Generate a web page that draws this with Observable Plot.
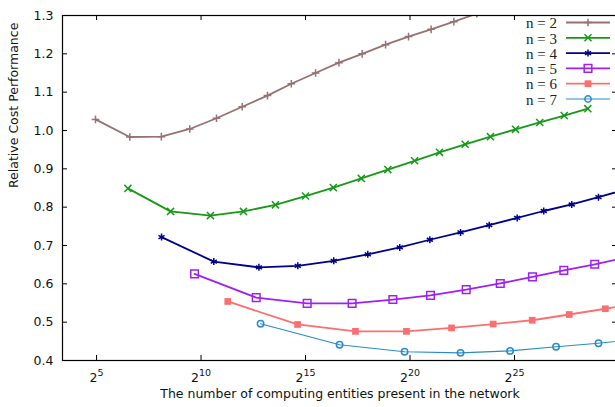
<!DOCTYPE html>
<html>
<head>
<meta charset="utf-8">
<script src="https://cdn.jsdelivr.net/npm/d3@7"></script>
<script src="https://cdn.jsdelivr.net/npm/@observablehq/plot@0.6"></script>
<style>
  html, body { margin: 0; padding: 0; background: #fff; overflow: hidden; }
  #chart svg { max-width: none !important; display: block; }
</style>
</head>
<body>
<div id="chart"></div>
<script>
// ---- data (x as log2 of the number of entities, y = relative cost performance) ----
const seriesNames = ["n = 2", "n = 3", "n = 4", "n = 5", "n = 6", "n = 7"];

const n2Exp = [4.95, 6.59, 8.10, 9.46, 10.74, 11.97, 13.18, 14.32, 15.48, 16.60, 17.71, 18.83, 19.93, 21.01, 22.10, 23.20];
const n2Val = [1.029, 0.983, 0.984, 1.004, 1.032, 1.062, 1.091, 1.122, 1.150, 1.177, 1.200, 1.224, 1.245, 1.264, 1.284, 1.305];

const n3Exp = [6.50, 8.54, 10.45, 12.03, 13.56, 15.00, 16.33, 17.67, 18.94, 20.22, 21.41, 22.64, 23.85, 25.05, 26.21, 27.38, 28.51];
const n3Val = [0.849, 0.789, 0.778, 0.789, 0.806, 0.829, 0.851, 0.875, 0.898, 0.921, 0.943, 0.964, 0.984, 1.003, 1.021, 1.039, 1.057];

const n4Exp = [8.11, 10.61, 12.77, 14.63, 16.35, 17.98, 19.51, 20.95, 22.42, 23.79, 25.13, 26.40, 27.74, 29.02, 30.26];
const n4Val = [0.722, 0.658, 0.643, 0.647, 0.660, 0.677, 0.695, 0.715, 0.734, 0.753, 0.772, 0.790, 0.807, 0.826, 0.845];

const n5Exp = [9.69, 12.64, 15.08, 17.23, 19.18, 20.98, 22.69, 24.32, 25.86, 27.36, 28.84, 30.30];
const n5Val = [0.626, 0.564, 0.549, 0.549, 0.559, 0.570, 0.585, 0.601, 0.618, 0.635, 0.651, 0.668];

const n6Exp = [11.28, 14.62, 17.39, 19.83, 21.99, 23.98, 25.85, 27.62, 29.35, 31.05];
const n6Val = [0.554, 0.494, 0.476, 0.476, 0.485, 0.495, 0.505, 0.520, 0.535, 0.551];

const n7Exp = [12.85, 16.63, 19.74, 22.42, 24.79, 26.99, 29.02, 31.00];
const n7Val = [0.496, 0.441, 0.423, 0.420, 0.425, 0.436, 0.445, 0.456];

const xTickExps = [5, 10, 15, 20, 25];
const yTicks = [0.4, 0.5, 0.6, 0.7, 0.8, 0.9, 1.0, 1.1, 1.2, 1.3];
const xTitle = "The number of computing entities present in the network";
const yTitle = "Relative Cost Performance";

// ---- styles ----
const styles = [
  {color: "#967272", symbol: "plus",     r: 2.6, filled: false, lw: 1.8},
  {color: "#169a16", symbol: "times",    r: 3.3, filled: false, lw: 1.8},
  {color: "#00008b", symbol: "asterisk", r: 3.3, filled: false, lw: 1.8},
  {color: "#a020f0", symbol: "square",   r: 4.3, filled: false, lw: 1.8},
  {color: "#fa7070", symbol: "square",   r: 3.8, filled: true,  lw: 1.8},
  {color: "#2a8bc8", symbol: "circle",   r: 3.2, filled: false, lw: 1.1}
];

const exps = [n2Exp, n3Exp, n4Exp, n5Exp, n6Exp, n7Exp];
const vals = [n2Val, n3Val, n4Val, n5Val, n6Val, n7Val];

const W = 620, H = 407;
const mTop = 15, mRight = 3, mBottom = 47, mLeft = 62;
const plotW = W - mLeft - mRight, plotH = H - mTop - mBottom;
const xTicks = xTickExps.map(e => 2 ** e);

const seriesMarks = [];
seriesNames.forEach((name, i) => {
  const s = styles[i];
  const data = exps[i].map((e, j) => ({x: 2 ** e, y: vals[i][j]}));
  seriesMarks.push(Plot.line(data, {x: "x", y: "y", stroke: s.color, strokeWidth: s.lw, clip: true}));
  seriesMarks.push(Plot.dot(data, {
    x: "x", y: "y", symbol: s.symbol, r: s.r, clip: true,
    stroke: s.filled ? "none" : s.color,
    fill: s.filled ? s.color : "none",
    strokeWidth: 1.5
  }));
});

const chart = Plot.plot({
  width: W, height: H,
  marginTop: mTop, marginRight: mRight, marginBottom: mBottom, marginLeft: mLeft,
  style: {fontFamily: "'DejaVu Sans', sans-serif", fontSize: "12.5px", color: "#111", background: "#fff"},
  x: {type: "log", base: 2, domain: [2 ** 3.37, 2 ** 29.93]},
  y: {domain: [0.4, 1.3]},
  marks: [
    Plot.axisX({ticks: xTicks, tickSize: 0, tickPadding: 13, label: null,
                tickFormat: d => String(Math.round(Math.log2(d)))}),
    Plot.axisY({ticks: yTicks, tickSize: 0, tickPadding: 9, label: null,
                tickFormat: d => d.toFixed(1)}),
    Plot.ruleX(xTicks, {x: d => d, insetTop: plotH - 5, stroke: "#000"}),
    Plot.ruleX(xTicks, {x: d => d, insetBottom: plotH - 5, stroke: "#000"}),
    Plot.ruleY(yTicks, {y: d => d, insetRight: plotW - 5, stroke: "#000"}),
    Plot.ruleY(yTicks, {y: d => d, insetLeft: plotW - 5, stroke: "#000"}),
    ...seriesMarks,
    Plot.frame({stroke: "#000", strokeWidth: 1.2}),
    Plot.text([xTitle], {text: d => d, frameAnchor: "bottom", dy: 37, fontSize: 12.5}),
    Plot.text([yTitle], {text: d => d, frameAnchor: "left", dx: -48.5, rotate: -90, fontSize: 12.5})
  ]
});
chart.style.maxWidth = "none";
document.getElementById("chart").appendChild(chart);

// superscript exponents on the x tick labels
d3.select(chart).selectAll('g[aria-label="x-axis tick label"] text').each(function () {
  const exp = this.textContent;
  const t = d3.select(this);
  t.text(null);
  t.append("tspan").text("2");
  t.append("tspan").attr("dy", -6).attr("font-size", 9.5).text(exp);
});

// legend (inside the plot, top right)
const symMap = {plus: d3.symbolPlus, times: d3.symbolTimes, asterisk: d3.symbolAsterisk,
                square: d3.symbolSquare, circle: d3.symbolCircle};
const lg = d3.select(chart).append("g")
  .attr("font-family", "'Liberation Serif', 'Times New Roman', serif")
  .attr("font-size", 15).attr("fill", "#222");
seriesNames.forEach((name, i) => {
  const s = styles[i];
  const cy = 22.5 + 15.3 * i;
  lg.append("text").attr("x", 557).attr("y", cy).attr("dy", "0.38em")
    .attr("text-anchor", "end").text(name);
  lg.append("line").attr("x1", 566).attr("x2", 610).attr("y1", cy).attr("y2", cy)
    .attr("stroke", s.color).attr("stroke-width", s.lw);
  lg.append("path").attr("transform", `translate(588,${cy})`)
    .attr("d", d3.symbol(symMap[s.symbol], Math.PI * s.r * s.r)())
    .attr("fill", s.filled ? s.color : "none")
    .attr("stroke", s.filled ? "none" : s.color)
    .attr("stroke-width", 1.5);
});
</script>
</body>
</html>
